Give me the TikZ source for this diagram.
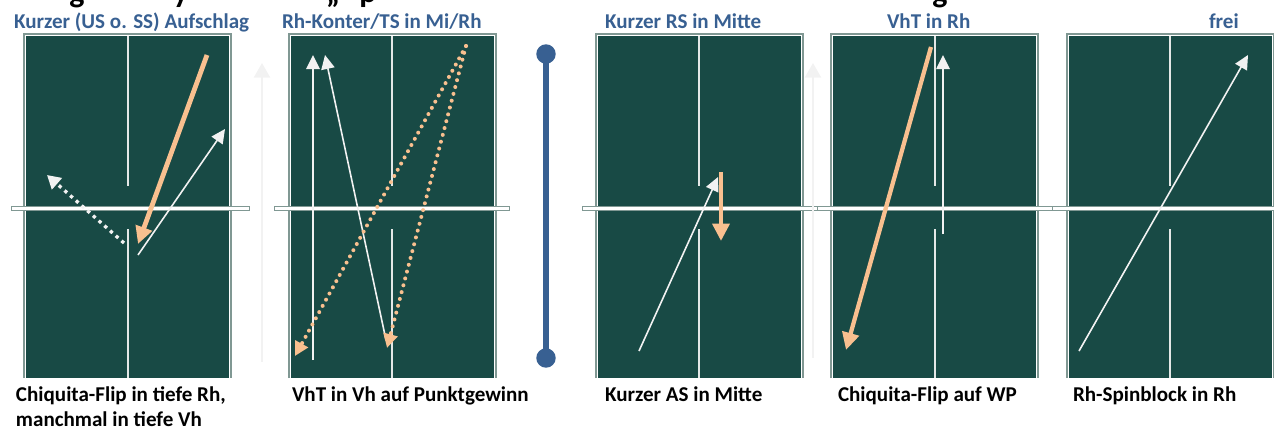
\documentclass[tikz,border=0pt]{standalone}
\usepackage{fontspec}
\setmainfont{Carlito}
\usetikzlibrary{arrows.meta}

\definecolor{tablegreen}{RGB}{24,74,69}
\definecolor{tableedge}{RGB}{128,152,147}
\definecolor{lineswhite}{RGB}{228,232,231}
\definecolor{ballorange}{RGB}{249,192,143}
\definecolor{titleblue}{RGB}{56,96,146}
\definecolor{faintgray}{RGB}{242,242,242}
\definecolor{shotwhite}{RGB}{242,242,242}

\begin{document}
\begin{tikzpicture}[x=0.75pt,y=-0.75pt,
  every node/.style={inner sep=0pt, outer sep=0pt},
  headtext/.style={font=\bfseries\fontsize{24}{28}\selectfont, text=black, anchor=base},
  titletext/.style={font=\bfseries\fontsize{15.8}{18}\selectfont, text=titleblue, anchor=base west},
  labeltext/.style={font=\bfseries\fontsize{15.8}{18.75}\selectfont, text=black, anchor=base west, align=left},
  centerline/.style={draw=lineswhite, line width=1.1pt},
  netbar/.style={draw=tableedge, fill=white, line width=0.75pt},
  shot/.style={draw=shotwhite, line width=1.2pt, -{Triangle[length=10.5pt,width=10pt]}},
  hardshot/.style={draw=ballorange, line width=3.6pt, -{Triangle[length=13pt,width=12.5pt]}},
  dotshot/.style={draw=shotwhite, line width=2.5pt, dash pattern=on 2.5pt off 3.2pt,
    -{Triangle[length=10pt,width=11pt]}},
  orangedots/.style={draw=ballorange, line width=3pt, line cap=round, dash pattern=on 0pt off 5.3pt,
    -{Triangle[length=10.5pt,width=10.5pt, line cap=butt]}},
  readarrow/.style={draw=faintgray, line width=1.8pt, -{Triangle[length=11pt,width=12pt]}},
  splitbar/.style={draw=titleblue, line width=4.3pt},
  splitdot/.style={fill=titleblue},
]
\useasboundingbox (0,0) rectangle (1274,430);

% heading line, almost entirely above the page edge
\node[headtext] (h1) at (77,2) {g};
\node[headtext] (h2) at (181,2) {y};
\node[headtext] (h3) at (333,2) {„};
\node[headtext] (h4) at (368,2) {p};
\node[headtext] (h5) at (940,2) {g};

% the five table halves
\foreach \l/\c in {24/128, 289/392, 596/699, 831/935, 1067/1170}{
  \fill[tablegreen] (\l,34) rectangle (\l+207,378);
  \draw[tableedge, line width=1.1pt] (\l,378) -- (\l,34) -- (\l+207,34) -- (\l+207,378);
  \draw[white, line width=0.75pt] (\l+1.5,378) -- (\l+1.5,35.5) -- (\l+205.5,35.5) -- (\l+205.5,378);
  \draw[centerline] (\c,35.5) -- (\c,186);
  \draw[centerline] (\c,229) -- (\c,378);
}

% nets
\filldraw[netbar] (11,206) rectangle (249,210);
\filldraw[netbar] (274,206) rectangle (509,210);
\filldraw[netbar] (582,206) rectangle (817,210);
\filldraw[netbar] (817,206) rectangle (1052,210);
\filldraw[netbar] (1052,206) rectangle (1276,210);

% faint reading arrows between tables
\draw[readarrow] (262,362) -- (262,63);
\draw[readarrow] (813,358) -- (813,63);

% table 1
\draw[hardshot] (207,55) -- (138,244);
\draw[shot] (138,255) -- (225,129);
\draw[dotshot] (124,243) -- (47,175);

% table 2
\draw[shot] (313,360) -- (313,55);
\draw[shot] (386,340) -- (325,55);
\draw[orangedots] (466,46) -- (295,356);
\draw[orangedots] (466,46) -- (387,348);

% separator
\draw[splitbar] (546,54) -- (546,358);
\fill[splitdot] (546,54) circle (7.3pt);
\fill[splitdot] (546,358) circle (7.3pt);

% table 3
\draw[shot] (639,351) -- (718,177);
\draw[hardshot, line width=3.2pt] (721,172) -- (721,241);

% table 4
\draw[hardshot, line width=3.2pt] (931,47) -- (846,350);
\draw[shot] (943,234) -- (943,55);

% table 5
\draw[shot] (1079,351) -- (1248,55);

% titles
\node[titletext] (t1) at (14,28) {Kurzer (US o. SS) Aufschlag};
\node[titletext] (t2) at (282,28) {Rh-Konter/TS in Mi/Rh};
\node[titletext] (t3) at (605,28) {Kurzer RS in Mitte};
\node[titletext] (t4) at (887,28) {VhT in Rh};
\node[titletext] (t5) at (1209,28) {frei};

% captions (a two-line node sits on the baseline of its last line)
\node[labeltext] (c1) at (16,426) {Chiquita-Flip in tiefe Rh,\\manchmal in tiefe Vh};
\node[labeltext] (c2) at (292,401) {VhT in Vh auf Punktgewinn};
\node[labeltext] (c3) at (605,401) {Kurzer AS in Mitte};
\node[labeltext] (c4) at (838,401) {Chiquita-Flip auf WP};
\node[labeltext] (c5) at (1073,401) {Rh-Spinblock in Rh};
\end{tikzpicture}
\end{document}
